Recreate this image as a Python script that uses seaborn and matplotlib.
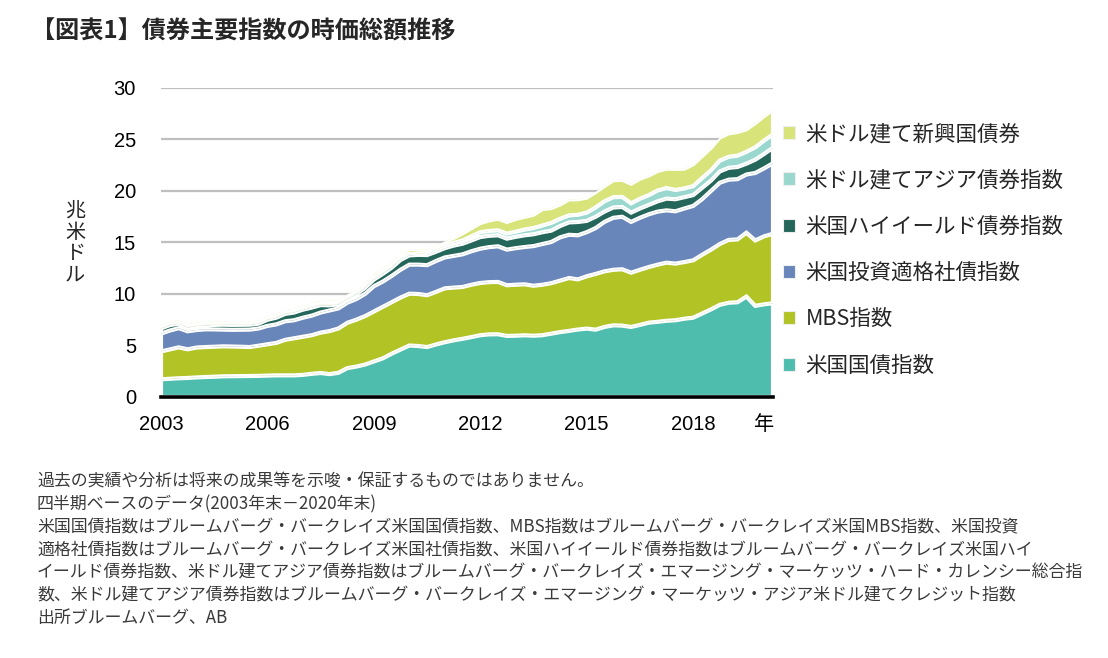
import numpy as np
import pandas as pd
import matplotlib
matplotlib.use("Agg")
import matplotlib.pyplot as plt
from matplotlib.patches import Patch
import seaborn as sns
import seaborn.objects as so

sns.set_theme(style="white")
plt.rcParams['font.family'] = ['Liberation Sans', 'Noto Sans CJK JP', 'DejaVu Sans']
JP = ['Noto Sans CJK JP', 'DejaVu Sans']

# quarterly positions, end of 2003 onward (70 quarters)
quarters = 2003 + np.arange(70) / 4.0

treasury = [1.72, 1.77, 1.82, 1.85, 1.90, 1.94, 1.97, 2.01, 2.02, 2.03,
            2.04, 2.05, 2.08, 2.10, 2.10, 2.10, 2.15, 2.25, 2.33, 2.22,
            2.35, 2.80, 2.95, 3.15, 3.45, 3.75, 4.20, 4.60, 5.00, 4.95,
            4.85, 5.10, 5.32, 5.50, 5.65, 5.82, 6.00, 6.08, 6.09, 5.93,
            5.95, 5.99, 5.95, 6.00, 6.15, 6.30, 6.42, 6.55, 6.64, 6.54,
            6.80, 6.96, 6.93, 6.80, 7.00, 7.22, 7.30, 7.40, 7.45, 7.60,
            7.70, 8.10, 8.50, 8.95, 9.15, 9.20, 9.75, 8.85, 9.00, 9.10]
mbs = [2.70, 2.85, 3.00, 2.78, 2.90, 2.91, 2.91, 2.91, 2.88, 2.85,
       2.81, 2.93, 3.04, 3.15, 3.45, 3.60, 3.70, 3.75, 3.92, 4.18,
       4.30, 4.40, 4.55, 4.70, 4.85, 5.00, 5.00, 5.05, 5.03, 5.05,
       5.03, 5.10, 5.23, 5.12, 5.03, 5.08, 5.07, 5.07, 5.08, 4.92,
       4.95, 4.95, 4.85, 4.90, 4.90, 5.00, 5.13, 4.87, 5.08, 5.41,
       5.40, 5.39, 5.47, 5.27, 5.35, 5.40, 5.55, 5.64, 5.50, 5.50,
       5.57, 5.70, 5.80, 5.90, 6.10, 6.10, 6.20, 6.35, 6.60, 6.75]
ig_corp = [1.73, 1.83, 1.86, 1.75, 1.70, 1.72, 1.68, 1.62, 1.62, 1.65,
           1.69, 1.67, 1.78, 1.80, 1.80, 1.75, 1.85, 1.90, 1.95, 2.00,
           1.95, 1.95, 2.00, 2.15, 2.45, 2.45, 2.55, 2.70, 2.82, 2.85,
           2.92, 3.00, 3.00, 3.08, 3.17, 3.25, 3.33, 3.40, 3.46, 3.46,
           3.55, 3.62, 3.85, 3.95, 4.00, 4.20, 4.20, 4.28, 4.28, 4.45,
           4.80, 5.05, 5.10, 4.93, 5.05, 5.12, 5.15, 5.08, 5.08, 5.20,
           5.28, 5.40, 5.70, 5.95, 5.85, 5.85, 5.65, 6.55, 6.60, 6.85]
high_yield = [0.51, 0.53, 0.44, 0.36, 0.40, 0.39, 0.44, 0.48, 0.48, 0.48,
              0.48, 0.47, 0.60, 0.65, 0.72, 0.75, 0.78, 0.78, 0.72, 0.50,
              0.40, 0.35, 0.45, 0.60, 0.65, 0.75, 0.80, 0.95, 0.90, 0.95,
              0.98, 0.90, 0.90, 1.00, 1.03, 1.05, 1.13, 1.10, 1.07, 1.06,
              1.10, 1.14, 1.15, 1.15, 1.10, 1.10, 1.20, 1.29, 1.10, 1.10,
              1.00, 1.00, 0.95, 0.90, 0.90, 0.91, 1.00, 1.14, 1.17, 1.10,
              1.05, 1.10, 1.00, 1.10, 1.15, 1.18, 1.05, 1.29, 1.40, 1.50]
asia_usd = [0.04, 0.04, 0.04, 0.04, 0.04, 0.04, 0.04, 0.04, 0.04, 0.04,
            0.04, 0.04, 0.04, 0.05, 0.05, 0.05, 0.05, 0.05, 0.05, 0.05,
            0.05, 0.06, 0.07, 0.08, 0.08, 0.09, 0.10, 0.10, 0.11, 0.12,
            0.14, 0.18, 0.23, 0.26, 0.32, 0.40, 0.47, 0.47, 0.48, 0.49,
            0.50, 0.56, 0.60, 0.65, 0.75, 0.70, 0.68, 0.70, 0.80, 0.90,
            1.00, 1.00, 0.97, 0.90, 0.95, 0.95, 1.05, 1.03, 0.90, 0.85,
            0.87, 0.95, 1.00, 1.05, 1.07, 1.10, 1.15, 1.20, 1.30, 1.30]
em_usd = [0.30, 0.30, 0.32, 0.30, 0.30, 0.30, 0.30, 0.28, 0.27, 0.26,
          0.26, 0.28, 0.32, 0.35, 0.32, 0.30, 0.32, 0.38, 0.36, 0.40,
          0.38, 0.40, 0.32, 0.42, 0.52, 0.46, 0.45, 0.45, 0.50, 0.43,
          0.40, 0.42, 0.42, 0.49, 0.70, 0.80, 0.89, 1.03, 1.14, 1.14,
          1.25, 1.24, 1.30, 1.60, 1.45, 1.40, 1.56, 1.51, 1.46, 1.50,
          1.50, 1.65, 1.68, 1.91, 1.95, 1.92, 1.90, 1.88, 2.05, 1.92,
          2.13, 2.15, 2.20, 2.25, 2.28, 2.30, 2.20, 2.36, 2.40, 2.40]

labels = ["米国国債指数", "MBS指数", "米国投資適格社債指数",
          "米国ハイイールド債券指数", "米ドル建てアジア債券指数", "米ドル建て新興国債券"]
colors = ["#4fbdae", "#b1c325", "#6886b9", "#24665a", "#9ad8cf", "#d8e47a"]
series = [treasury, mbs, ig_corp, high_yield, asia_usd, em_usd]

xtick_pos = [2003, 2006, 2009, 2012, 2015, 2018, 2020]
xtick_labels = ["2003", "2006", "2009", "2012", "2015", "2018", "年"]
ytick_pos = [0, 5, 10, 15, 20, 25, 30]

title = "【図表1】債券主要指数の時価総額推移"
notes = [
    "過去の実績や分析は将来の成果等を示唆・保証するものではありません。",
    "四半期ベースのデータ(2003年末－2020年末)",
    "米国国債指数はブルームバーグ・バークレイズ米国国債指数、MBS指数はブルームバーグ・バークレイズ米国MBS指数、米国投資",
    "適格社債指数はブルームバーグ・バークレイズ米国社債指数、米国ハイイールド債券指数はブルームバーグ・バークレイズ米国ハイ",
    "イールド債券指数、米ドル建てアジア債券指数はブルームバーグ・バークレイズ・エマージング・マーケッツ・ハード・カレンシー総合指",
    "数、米ドル建てアジア債券指数はブルームバーグ・バークレイズ・エマージング・マーケッツ・アジア米ドル建てクレジット指数",
    "出所ブルームバーグ、AB",
]

df = pd.DataFrame({
    "年": np.tile(quarters, len(labels)),
    "兆米ドル": np.concatenate([np.asarray(s, float) for s in series]),
    "指数": np.repeat(labels, len(quarters)),
})

fig = plt.figure(figsize=(11.08, 6.58), dpi=100)
fig.patch.set_facecolor("white")
ax = fig.add_axes([161 / 1108, 1 - 397 / 658, 612 / 1108, 309 / 658])

(so.Plot(df, x="年", y="兆米ドル", color="指数")
   .add(so.Area(alpha=1, edgecolor="white", edgewidth=1.5, edgealpha=1),
        so.Stack(), legend=False)
   .scale(color=so.Nominal(dict(zip(labels, colors)), order=labels))
   .on(ax)
   .plot())

ax.set_facecolor("white")
ax.set_xlim(2003, 2020.25)
ax.set_ylim(0, 30)
ax.set_axisbelow(True)
ax.yaxis.grid(True, color="#bfbfbf", linewidth=1.6)
ax.xaxis.grid(False)
for s in ["left", "right", "top"]:
    ax.spines[s].set_visible(False)
ax.spines["bottom"].set_visible(True)
ax.spines["bottom"].set_color("black")
ax.spines["bottom"].set_linewidth(2.6)
ax.set_xticks(xtick_pos)
ax.set_xticklabels(xtick_labels)
ax.set_yticks(ytick_pos)
ax.set_yticklabels([str(v) for v in ytick_pos])
ax.tick_params(axis="both", length=0, labelsize=14.5, colors="black")
ax.tick_params(axis="y", pad=18)
ax.tick_params(axis="x", pad=13)
ax.set_xlabel("")
ax.set_ylabel("")

fig.text(75 / 1108, 1 - 243 / 658, "兆\n米\nド\nル", family=JP, fontsize=14.5,
         ha="center", va="center", linespacing=1.02)

fig.text(31 / 1108, 1 - 32 / 658, title, family=JP, fontsize=17.4,
         fontweight="bold", ha="left", va="center")

handles = [Patch(facecolor=c, edgecolor="#eeeeee", linewidth=0.8) for c in colors][::-1]
leg = fig.legend(handles, labels[::-1], loc="upper left",
                 bbox_to_anchor=(783 / 1108, 1 - 123 / 658),
                 frameon=False, prop={"family": JP, "size": 15.5},
                 handlelength=0.55, handleheight=0.55, handletextpad=0.5,
                 labelspacing=1.13, borderpad=0, borderaxespad=0)

y0 = 482
for k, line in enumerate(notes):
    fig.text(37 / 1108, 1 - (y0 + k * 22.7) / 658, line, family=JP,
             fontsize=12.2, color="#3a3a3a", ha="left", va="center")

fig.savefig("out.png", dpi=100, facecolor="white")
